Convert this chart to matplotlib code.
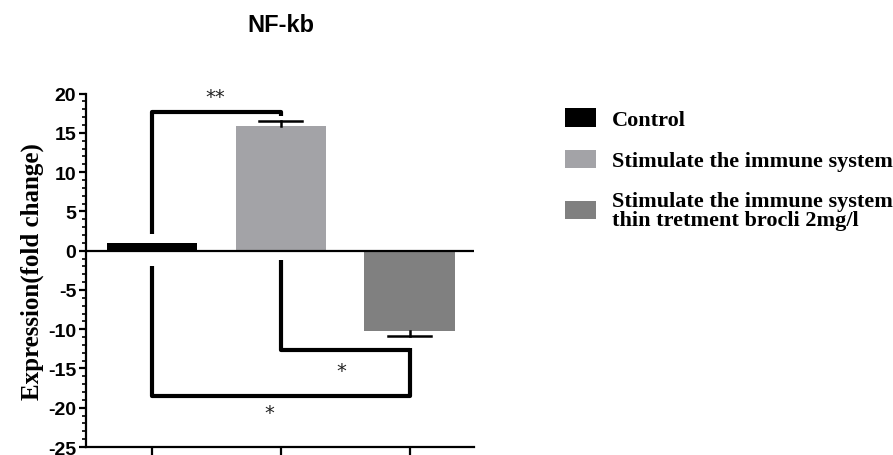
import matplotlib
matplotlib.use("Agg")
import matplotlib.pyplot as plt
from matplotlib.patches import Patch
from matplotlib.ticker import MultipleLocator

plt.rcParams["axes.unicode_minus"] = False

# ---- data ----
groups = ["Control", "Stimulate the immune system",
          "Stimulate the immune system\nthin tretment brocli 2mg/l"]
values = [1.0, 15.9, -10.2]
errors = [0.0, 0.6, 0.7]
colors = ["#000000", "#a3a3a7", "#808080"]
yticks = [20, 15, 10, 5, 0, -5, -10, -15, -20, -25]
title = "NF-kb"
ylabel = "Expression(fold change)"

# significance brackets: (i, j, level, left-leg start, right-leg end, label, label y)
brackets = [
    (0, 1, 17.7, 2.1, 17.2, "**", 19.6),
    (1, 2, -12.7, -1.15, -12.4, "*", -15.3),
    (0, 2, -18.5, -1.9, -12.7, "*", -20.6),
]
label_x = [0.49, 1.47, 0.91]

fig = plt.figure(figsize=(8.93, 4.56), dpi=100)
ax = fig.add_axes([0.0963, 0.0175, 0.4345, 0.775])

x = list(range(len(values)))
ax.bar(x, values, width=0.7, color=colors, zorder=2)
# error bars only away from zero (one cap)
cap_half = 0.165
for xi, v, e in zip(x, values, errors):
    if e > 0:
        end = v + e if v > 0 else v - e
        ax.plot([xi, xi], [v, end], color="black", lw=1.8, zorder=3)
        ax.plot([xi - cap_half, xi + cap_half], [end, end], color="black",
                lw=1.8, zorder=3)

ax.axhline(0, color="black", lw=1.6, zorder=4)

for (i, j, lvl, ls, re, lab, ly), lx in zip(brackets, label_x):
    ax.plot([i, i, j, j], [ls, lvl, lvl, re], color="black", lw=3,
            solid_joinstyle="round", solid_capstyle="butt", zorder=5)
    ax.text(lx, ly, lab, ha="center", va="center", fontsize=14,
            family="DejaVu Sans", color="#222222")

ax.set_xlim(-0.51, 2.5)
ax.set_ylim(-25, 20)
ax.set_yticks(yticks)
ax.yaxis.set_minor_locator(MultipleLocator(1))
ax.set_xticks(x)
ax.set_xticklabels([])
ax.tick_params(axis="x", direction="out", length=8, width=1.6)
ax.tick_params(axis="y", which="major", direction="out", length=5, width=1.6,
               labelsize=14, pad=2)
ax.tick_params(axis="y", which="minor", direction="out", length=3, width=1.2)
for lbl in ax.get_yticklabels():
    lbl.set_fontfamily("Liberation Sans")
    lbl.set_fontweight("bold")
for s in ["top", "right"]:
    ax.spines[s].set_visible(False)
for s in ["left", "bottom"]:
    ax.spines[s].set_linewidth(1.6)

ax.set_ylabel(ylabel, fontsize=18, fontweight="bold", family="Liberation Serif",
              labelpad=3)
fig.text(0.314, 0.945, title, ha="center", va="center", fontsize=17,
         fontweight="bold", family="Liberation Sans")

handles = [Patch(facecolor=c, edgecolor="none") for c in colors]
leg = fig.legend(handles, groups, loc="upper left", bbox_to_anchor=(0.628, 0.77),
                 frameon=False, prop={"family": "Liberation Serif", "weight": "bold",
                                      "size": 16},
                 handlelength=1.4, handleheight=0.9, handletextpad=0.7,
                 labelspacing=0.87, borderaxespad=0, borderpad=0.2)
for t in leg.get_texts():
    t.set_linespacing(0.95)

fig.savefig("out.png", dpi=100)
